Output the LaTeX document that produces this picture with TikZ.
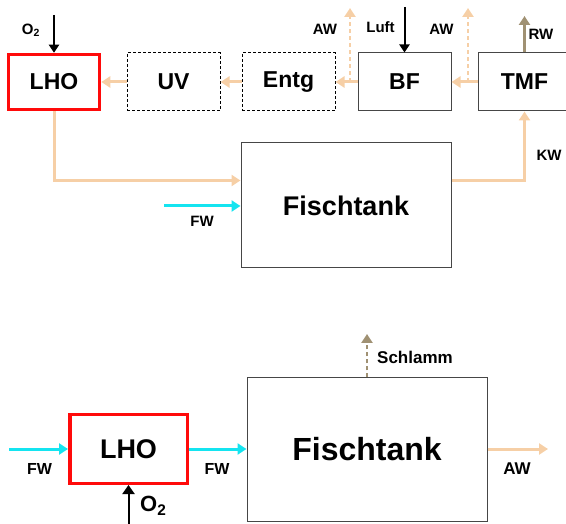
\documentclass[tikz,border=0pt]{standalone}
\usepackage{fontspec}
\setmainfont{Liberation Sans}
\usetikzlibrary{positioning,arrows.meta}
\definecolor{myred}{RGB}{255,10,10}
\definecolor{mypeach}{RGB}{246,207,166}
\definecolor{mycyan}{RGB}{20,228,240}
\definecolor{mytaupe}{RGB}{160,145,115}
\definecolor{myframe}{RGB}{70,70,70}
\tikzset{
    unit/.style={
        rectangle,
        draw=myframe,
        fill=white,
        line width=1pt,
        minimum width=93pt,
        minimum height=58pt,
        inner sep=0pt,
        font=\bfseries\fontsize{23}{25}\selectfont
    },
    lho/.style={unit,draw=myred,line width=3.5pt,minimum width=91pt,minimum height=55pt},
    opt/.style={unit,draw=black,dash pattern=on 3pt off 2pt},
    tank/.style={unit,font=\bfseries\fontsize{27}{29}\selectfont},
    lbl/.style={inner sep=0pt,font=\bfseries\fontsize{15}{17}\selectfont},
    flow/.style={-{Triangle[length=9pt,width=11pt]},line width=3pt,mypeach},
    waste/.style={flow,line width=2.5pt,dash pattern=on 4pt off 3pt},
    fresh/.style={-{Triangle[length=9pt,width=11pt]},line width=3pt,mycyan},
    gas/.style={-{Triangle[length=8pt,width=10pt]},line width=2pt,black},
    rest/.style={-{Triangle[length=9pt,width=11pt]},line width=3pt,mytaupe}
}
\begin{document}
\begin{tikzpicture}[x=1pt,y=-1pt]
\useasboundingbox (0,0) rectangle (566,524);
% obere Anlage
\node[lho] (lho1) at (54,82) {LHO};
\node[opt] (uv) at (173.5,82) {UV};
\node[opt] (entg) at (288.5,82) {Entg};
\node[unit] (bf) at (404.5,82) {BF};
\node[unit] (tmf) at (524.5,82) {TMF};
\node[tank,minimum width=210pt,minimum height=125pt] (ft1) at (346,205.5) {Fischtank};
\draw[flow] (tmf) -- (bf);
\draw[flow] (bf) -- (entg);
\draw[flow] (entg) -- (uv);
\draw[flow] (uv) -- (lho1);
\draw[flow] (lho1.south) |- ([yshift=25pt]ft1.west);
\draw[flow] ([yshift=25pt]ft1.east) -| (tmf.south);
\coordinate (aw1) at (350,8);
\coordinate (aw2) at (468,8);
\draw[waste] (350,82) -- (aw1);
\draw[waste] (468,82) -- (aw2);
\coordinate (o2a) at (54,15);
\coordinate (luft) at (404.5,7);
\coordinate (rw) at (524.5,16);
\coordinate (fwa) at (164,206);
\draw[gas] (o2a) -- (lho1.north);
\draw[gas] (luft) -- (bf.north);
\draw[rest] (tmf.north) -- (rw);
\draw[fresh] (fwa) -- (ft1.west |- fwa);
\node[lbl] (o2alab) at (31,30) {O\textsubscript{2}};
\node[lbl] (aw1lab) at (325,29.5) {AW};
\node[lbl] (luftlab) at (380.5,27.5) {Luft};
\node[lbl] (aw2lab) at (441.5,29.5) {AW};
\node[lbl] (rwlab) at (541,34) {RW};
\node[lbl] (kwlab) at (549,155.5) {KW};
\node[lbl] (fwalab) at (202,221.5) {FW};
% untere Anlage
\node[lho,minimum width=117.5pt,minimum height=68.5pt,font=\bfseries\fontsize{27}{29}\selectfont] (lho2) at (128.5,449) {LHO};
\node[tank,minimum width=240pt,minimum height=143pt,font=\bfseries\fontsize{32}{34}\selectfont] (ft2) at (367,449.5) {Fischtank};
\coordinate (fwb) at (9,449);
\coordinate (awb) at (548,449);
\coordinate (schl) at (367,334);
\coordinate (o2b) at (128.5,526);
\draw[fresh] (fwb) -- (lho2);
\draw[fresh] (lho2) -- (ft2.west |- lho2);
\draw[flow] (ft2.east |- awb) -- (awb);
\draw[rest,line width=2.5pt,dash pattern=on 4pt off 3pt] (ft2.north) -- (schl);
\draw[gas,-{Triangle[length=9pt,width=12pt]}] (o2b) -- (lho2.south);
\node[lbl,font=\bfseries\fontsize{16}{18}\selectfont] (fwblab) at (39.5,469) {FW};
\node[lbl,font=\bfseries\fontsize{16}{18}\selectfont] (fwclab) at (217,469) {FW};
\node[lbl,font=\bfseries\fontsize{17}{19}\selectfont] (awblab) at (517,469) {AW};
\node[lbl,anchor=west,font=\bfseries\fontsize{17}{19}\selectfont] (schllab) at (377,357.5) {Schlamm};
\node[lbl,anchor=west,font=\bfseries\fontsize{22}{24}\selectfont] (o2blab) at (140,506) {O\textsubscript{2}};
\end{tikzpicture}
\end{document}
